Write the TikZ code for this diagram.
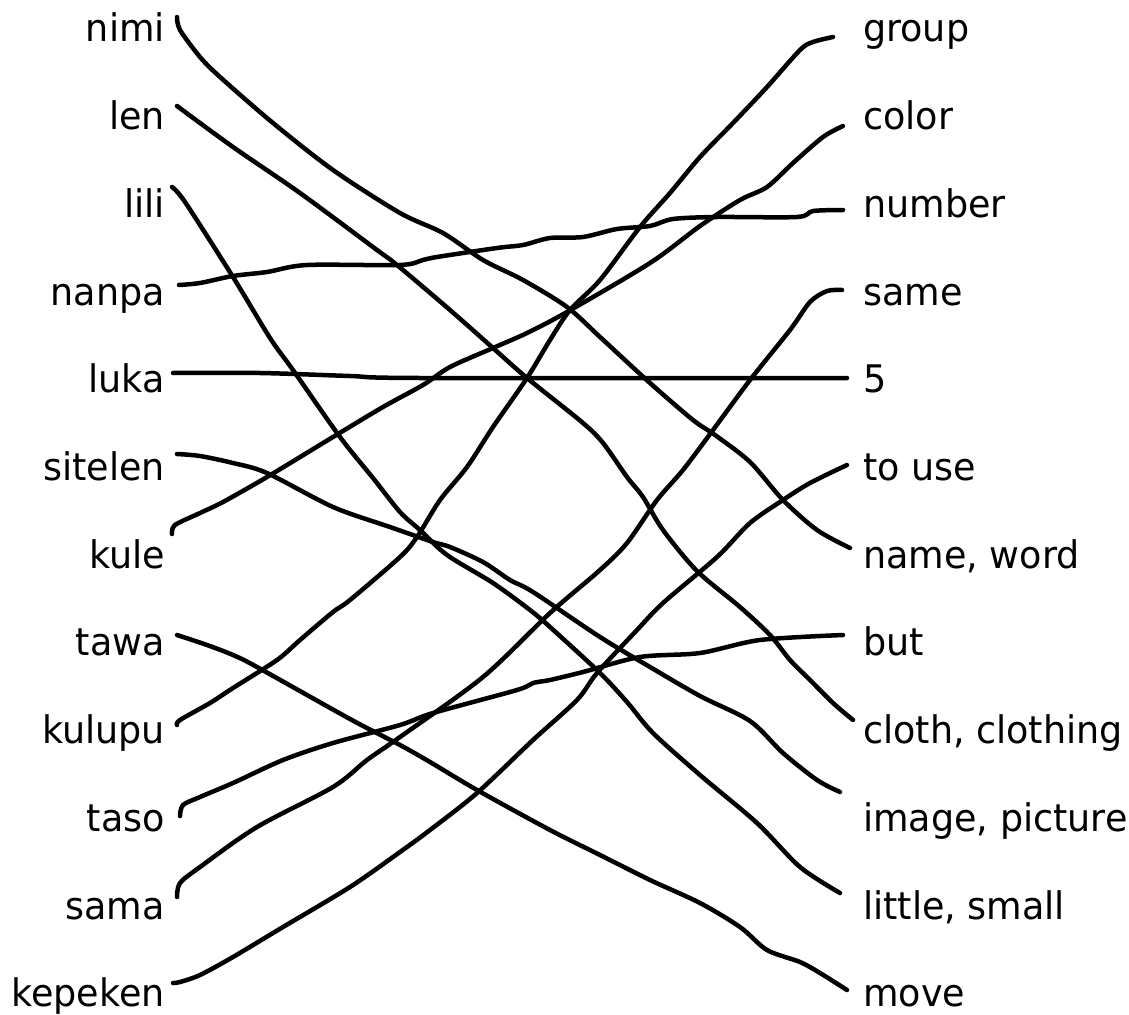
\documentclass[tikz,border=0pt]{standalone}
\usepackage{fontspec}
\setmainfont{DejaVu Sans}[FakeStretch=0.96]
\begin{document}
\begin{tikzpicture}[x=1pt,y=-1pt,
  lab/.style={font=\fontsize{38}{40}\selectfont, inner sep=0pt},
  lft/.style={lab, anchor=base east},
  rgt/.style={lab, anchor=base west},
  conn/.style={line width=4.5pt, line cap=round, line join=round}]
\useasboundingbox (0,0) rectangle (1129,1014);
% left labels
\node[lft] (l1)  at (165,42.0)   {nimi};
\node[lft] (l2)  at (165,129.7)  {len};
\node[lft] (l3)  at (165,217.4)  {lili};
\node[lft] (l4)  at (165,305.1)  {nanpa};
\node[lft] (l5)  at (165,392.8)  {luka};
\node[lft] (l6)  at (165,480.5)  {sitelen};
\node[lft] (l7)  at (165,568.2)  {kule};
\node[lft] (l8)  at (165,655.9)  {tawa};
\node[lft] (l9)  at (165,743.6)  {kulupu};
\node[lft] (l10) at (165,831.3)  {taso};
\node[lft] (l11) at (165,919.0)  {sama};
\node[lft] (l12) at (165,1006.7) {kepeken};
% right labels
\node[rgt] (r1)  at (863,42.0)   {group};
\node[rgt] (r2)  at (863,129.7)  {color};
\node[rgt] (r3)  at (863,217.4)  {number};
\node[rgt] (r4)  at (863,305.1)  {same};
\node[rgt] (r5)  at (863,392.8)  {5};
\node[rgt] (r6)  at (863,480.5)  {to use};
\node[rgt] (r7)  at (863,568.2)  {name, word};
\node[rgt] (r8)  at (863,655.9)  {but};
\node[rgt] (r9)  at (863,743.6)  {cloth, clothing};
\node[rgt] (r10) at (863,831.3)  {image, picture};
\node[rgt] (r11) at (863,919.0)  {little, small};
\node[rgt] (r12) at (863,1006.7) {move};
% connector ends
\coordinate (a1) at (177,17);   \coordinate (b1) at (850,548);
\coordinate (a2) at (177,106);  \coordinate (b2) at (853,720);
\coordinate (a3) at (172,187);  \coordinate (b3) at (840,893);
\coordinate (a4) at (179,285);  \coordinate (b4) at (843,210);
\coordinate (a5) at (173,373);  \coordinate (b5) at (847,378);
\coordinate (a6) at (177,454);  \coordinate (b6) at (840,792);
\coordinate (a7) at (172,534);  \coordinate (b7) at (843,126);
\coordinate (a8) at (177,635);  \coordinate (b8) at (847,990);
\coordinate (a9) at (177,725);  \coordinate (b9) at (833,37);
\coordinate (a10) at (180,816); \coordinate (b10) at (843,635);
\coordinate (a11) at (177,897); \coordinate (b11) at (842,290);
\coordinate (a12) at (173,983); \coordinate (b12) at (847,465);
% nimi -> name, word
\draw[conn] plot[smooth] coordinates {(a1) (180,30) (200,57) (220,77) (273,123) (333,170) (400,213) (443,233) (483,260) (523,280) (567,307) (600,337) (650,383) (693,420) (715,435) (750,462) (783,500) (817,530) (b1)};
% len -> cloth, clothing
\draw[conn] plot[smooth] coordinates {(a2) (233,147) (300,193) (377,250) (397,265) (450,310) (493,348) (527,378) (583,423) (603,443) (627,477) (643,497) (663,530) (697,571) (740,607) (770,635) (790,660) (810,680) (833,703) (b2)};
% lili -> little, small
\draw[conn] plot[smooth] coordinates {(a3) (185,202) (233,277) (270,338) (293,370) (340,437) (373,478) (400,512) (420,530) (447,555) (493,583) (530,610) (550,627) (600,673) (627,702) (653,733) (700,775) (757,823) (800,867) (b3)};
% nanpa -> number
\draw[conn] plot[smooth] coordinates {(a4) (200,283) (233,276) (267,272) (307,265) (400,265) (423,260) (437,257) (497,248) (523,245) (550,238) (583,237) (617,229) (650,226) (673,219) (717,217) (797,217) (813,211) (b4)};
% luka -> 5
\draw[conn] plot[smooth] coordinates {(a5) (260,373) (350,376) (420,378) (b5)};
% sitelen -> image, picture
\draw[conn] plot[smooth] coordinates {(a6) (200,456) (233,463) (267,473) (333,507) (390,527) (433,542) (450,547) (483,562) (510,580) (533,592) (600,637) (650,667) (700,696) (750,721) (783,753) (817,780) (b6)};
% kule -> color
\draw[conn] plot[smooth] coordinates {(a7) (175,525) (200,513) (223,502) (267,477) (333,437) (383,407) (423,385) (450,367) (493,348) (527,333) (567,312) (650,263) (700,226) (740,200) (767,187) (793,163) (823,137) (b7)};
% tawa -> move
\draw[conn] plot[smooth] coordinates {(a8) (207,645) (233,655) (257,667) (350,719) (400,745) (430,762) (477,790) (550,830) (600,855) (650,880) (700,903) (740,927) (767,950) (800,962) (820,973) (b8)};
% kulupu -> group
\draw[conn] plot[smooth] coordinates {(a9) (180,720) (210,703) (233,688) (277,660) (300,640) (333,612) (350,600) (400,557) (417,537) (440,500) (467,467) (493,427) (527,378) (550,340) (570,310) (600,280) (640,227) (670,193) (700,157) (733,123) (767,87) (800,50) (813,42) (b9)};
% taso -> but
\draw[conn] plot[smooth] coordinates {(a10) (183,805) (200,797) (233,783) (283,760) (333,743) (400,725) (433,713) (517,690) (533,683) (550,680) (583,672) (640,657) (700,653) (760,640) (b10)};
% sama -> same
\draw[conn] plot[smooth] coordinates {(a11) (180,883) (200,867) (257,827) (333,787) (367,760) (400,737) (483,677) (550,613) (600,570) (627,543) (657,500) (683,470) (713,430) (750,380) (790,330) (810,302) (827,291) (b11)};
% kepeken -> to use
\draw[conn] plot[smooth] coordinates {(a12) (180,982) (200,975) (233,957) (283,927) (350,887) (400,852) (430,830) (477,793) (533,740) (577,700) (597,673) (637,630) (663,603) (717,557) (750,523) (783,500) (810,483) (b12)};
\end{tikzpicture}
\end{document}
